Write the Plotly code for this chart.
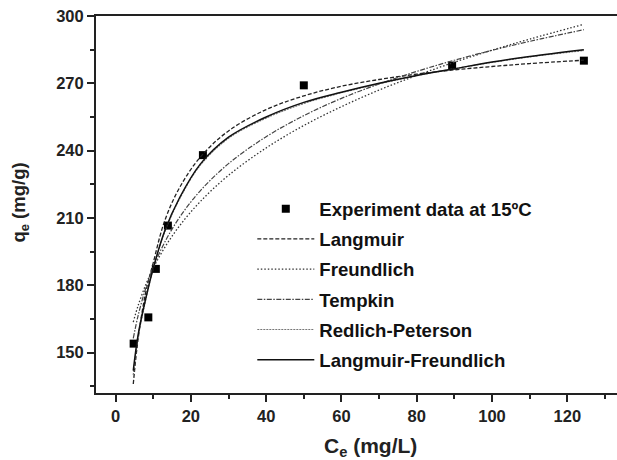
import plotly.graph_objects as go

# Experimental data (Ce, qe)
exp_x = [4.8, 8.7, 10.7, 13.9, 23.2, 50.0, 89.4, 124.4]
exp_y = [154.0, 165.7, 187.3, 206.6, 238.0, 269.1, 277.9, 280.1]

# Fitted curves
fit_x = [4.7, 6, 8, 10, 13, 17, 22.5, 30, 40, 50, 60, 70, 80, 90, 100, 110, 124.4]
langmuir = [136.0, 156.3, 176.8, 190.0, 208.5, 223.5, 237.1, 248.8, 258.3, 264.4,
            268.7, 271.7, 274.1, 276.0, 277.5, 278.8, 280.3]
freundlich = [163.6, 171.0, 180.2, 187.6, 196.7, 206.5, 217.3, 229.0, 241.2, 251.2,
              259.6, 267.0, 273.5, 279.4, 284.8, 289.7, 296.3]
tempkin = [156.3, 166.6, 178.6, 188.0, 199.0, 210.3, 222.1, 234.2, 246.2, 255.6,
           263.3, 269.7, 275.3, 280.3, 284.7, 288.7, 293.9]
redlich = [140.0, 157.0, 173.5, 187.5, 203.5, 218.5, 233.5, 245.5, 254.5, 261.0,
           265.8, 269.8, 273.4, 276.5, 279.3, 281.8, 284.6]
lang_freund = [142.0, 158.0, 174.0, 187.5, 204.0, 219.0, 234.0, 246.0, 255.0, 261.5,
               266.0, 270.0, 273.5, 276.5, 279.5, 282.0, 285.0]

FONT = "Liberation Sans, Arial, sans-serif"

fig = go.Figure()
fig.add_trace(go.Scatter(x=exp_x, y=exp_y, mode="markers", name="Experiment data at 15ºC",
                         legendgroup="a",
                         marker=dict(symbol="square", size=8, color="black")))
curves = [
    ("Langmuir", langmuir, "#222222", "4px,2px", 1.3),
    ("Freundlich", freundlich, "#333333", "1.5px,2px", 1.3),
    ("Tempkin", tempkin, "#444444", "5px,1.5px,1.5px,1.5px", 1.2),
    ("Redlich-Peterson", redlich, "#777777", "2px,1px", 1.2),
    ("Langmuir-Freundlich", lang_freund, "#111111", "solid", 1.5),
]
for i, (nm, ys, col, dash, w) in enumerate(curves):
    fig.add_trace(go.Scatter(x=fit_x, y=ys, mode="lines", name=nm, legendgroup=f"g{i}",
                             line=dict(color=col, dash=dash, width=w, shape="spline")))

axis_common = dict(
    showline=True, linecolor="#222222", linewidth=2, showgrid=False, zeroline=False,
    ticks="outside", ticklen=7, tickwidth=2, tickcolor="#222222",
    tickfont=dict(family=FONT, size=16.5, color="#222222", weight="bold"),
)
fig.update_xaxes(range=[-5.2, 133.2], dtick=20, tick0=0, mirror=True,
                 minor=dict(dtick=10, ticks="outside", ticklen=4, tickwidth=2, tickcolor="#222222"),
                 **axis_common)
fig.update_yaxes(range=[132, 300], dtick=30, tick0=0, mirror=False,
                 minor=dict(dtick=15, ticks="outside", ticklen=4, tickwidth=2, tickcolor="#222222"),
                 **axis_common)

fig.add_annotation(text="C<sub>e</sub> (mg/L)", x=67.8, xref="x", y=-0.143, yref="paper",
                   yanchor="middle", showarrow=False,
                   font=dict(family=FONT, size=21, color="#222222", weight="bold"))
fig.add_annotation(text="q<sub>e</sub> (mg/g)", x=-0.146, xref="paper", y=0.505, yref="paper",
                   textangle=-90, xanchor="center", showarrow=False,
                   font=dict(family=FONT, size=18.5, color="#222222", weight="bold"))

fig.update_layout(
    width=617, height=460,
    margin=dict(l=96, r=0, t=16, b=67),
    paper_bgcolor="white", plot_bgcolor="white",
    showlegend=True,
    legend=dict(x=0.30, y=0.538, xanchor="left", yanchor="top", bgcolor="rgba(0,0,0,0)",
                font=dict(family=FONT, size=18.6, color="#111111", weight="bold"),
                tracegroupgap=3, itemwidth=57),
)

fig.write_html("out.html")
